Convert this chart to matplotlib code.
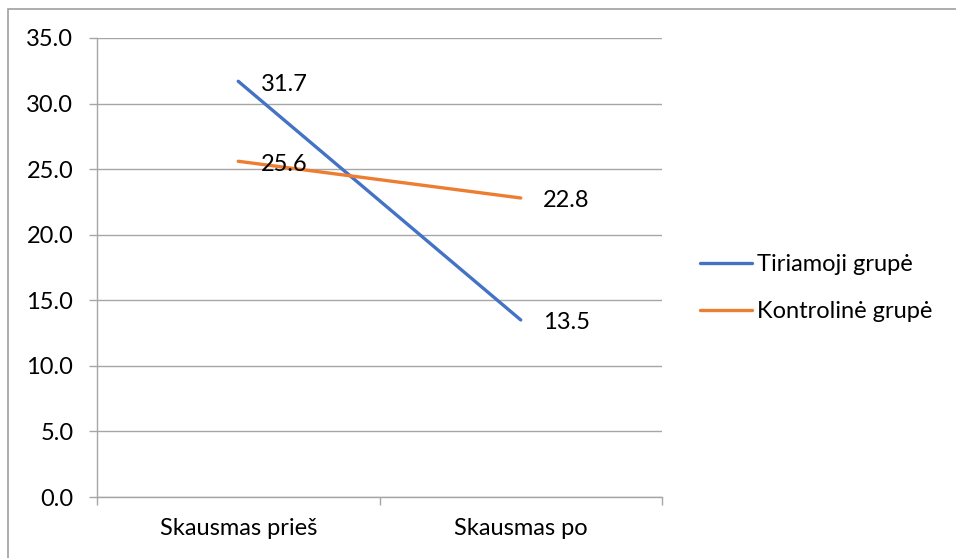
import matplotlib.pyplot as plt
from matplotlib.patches import Rectangle

plt.rcParams['font.family'] = ['Lato', 'DejaVu Sans']

categories = ['Skausmas prieš', 'Skausmas po']
series_names = ['Tiriamoji grupė', 'Kontrolinė grupė']
tiriamoji = [31.7, 13.5]
kontroline = [25.6, 22.8]
y_ticks = [0, 5, 10, 15, 20, 25, 30, 35]

colors = ['#4472C4', '#ED7D31']
grid_color = '#a6a6a6'
fs = 17

fig = plt.figure(figsize=(9.56, 5.58), dpi=100)
# outer chart border (Excel style)
fig.patches.append(Rectangle((8 / 956, -0.01), 1.0, (558 - 9) / 558 + 0.01,
                             transform=fig.transFigure, fill=False,
                             edgecolor='#a0a0a0', linewidth=1.2))

ax = fig.add_axes([97 / 956, (558 - 497) / 558, 565 / 956, 459 / 558])

x = list(range(len(categories)))
for vals, name, c in zip([tiriamoji, kontroline], series_names, colors):
    ax.plot(x, vals, color=c, linewidth=2.4, label=name, solid_capstyle='round')
    for xi, v in zip(x, vals):
        ax.annotate(f'{v:.1f}', (xi, v), xytext=(16, -2), textcoords='offset points',
                    va='center', ha='left', fontsize=fs)

ax.set_xlim(-0.5, len(categories) - 0.5)
ax.set_ylim(0, 35)
ax.set_yticks(y_ticks)
ax.set_yticklabels([f'{v:.1f}' for v in y_ticks], fontsize=fs)
ax.yaxis.grid(True, color=grid_color, linewidth=1)
ax.set_axisbelow(True)

ax.set_xticks([i - 0.5 for i in range(len(categories) + 1)])
ax.set_xticklabels([])
ax.set_xticks(x, minor=True)
ax.set_xticklabels(categories, minor=True, fontsize=fs)
ax.tick_params(axis='x', which='minor', length=0, pad=15)
ax.tick_params(axis='x', which='major', length=6, color=grid_color, width=1)
ax.tick_params(axis='y', length=6, color=grid_color, width=1, pad=11)

for s in ['top', 'right']:
    ax.spines[s].set_visible(False)
for s in ['left', 'bottom']:
    ax.spines[s].set_color(grid_color)
    ax.spines[s].set_linewidth(1)

ax.legend(loc='center left', bbox_to_anchor=(1.067, 0.455), frameon=False,
          fontsize=fs, handlelength=2.2, handletextpad=0.2, labelspacing=1.1,
          borderpad=0, borderaxespad=0)

plt.savefig('out.png', dpi=100)
